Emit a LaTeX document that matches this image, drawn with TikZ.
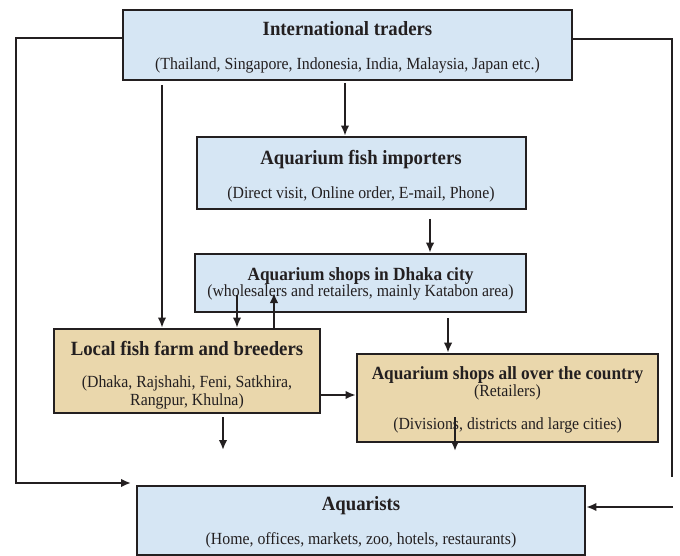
\documentclass[tikz,border=0pt]{standalone}
\usepackage{fontspec}
\setmainfont[FakeStretch=0.93]{Liberation Serif}
\usetikzlibrary{arrows.meta}
\definecolor{ink}{RGB}{35,31,32}
\definecolor{seablue}{RGB}{214,230,244}
\definecolor{sandtan}{RGB}{234,215,172}
\tikzset{
  bluebox/.style={draw=ink,line width=2.6pt,fill=seablue,inner sep=0pt},
  tanbox/.style={bluebox,fill=sandtan},
  hd/.style={anchor=base,inner sep=0pt,font=\fontsize{20.2}{22}\selectfont\bfseries},
  sub/.style={anchor=base,inner sep=0pt,font=\fontsize{17}{19}\selectfont},
}
\begin{document}
\begin{tikzpicture}[x=1pt,y=-1pt,>={Latex[length=10pt,width=8.5pt]},color=ink,line width=1.9pt]
        \useasboundingbox (0,0) rectangle (680,556);
        % boxes
        \node[bluebox,minimum width=449,minimum height=70] (trader) at (347.5,45) {};
        \node[bluebox,minimum width=329,minimum height=72] (importer) at (361.5,173) {};
        \node[bluebox,minimum width=331,minimum height=58] (dhaka) at (360.5,283) {};
        \node[tanbox,minimum width=266,minimum height=84] (local) at (187,371) {};
        \node[tanbox,minimum width=301,minimum height=88] (allover) at (507.5,398) {};
        \node[bluebox,minimum width=448,minimum height=69] (aquarist) at (361,520.5) {};
        % texts
        \node[hd] (traderT) at (347.5,36) {International traders};
        \node[sub] (traderS) at (347.5,70) {(Thailand, Singapore, Indonesia, India, Malaysia, Japan etc.)};
        \node[hd] (importerT) at (361,165) {Aquarium fish importers};
        \node[sub] (importerS) at (361,199) {(Direct visit, Online order, E-mail, Phone)};
        \node[hd,font=\fontsize{18.6}{20}\selectfont\bfseries] (dhakaT) at (360.5,280) {Aquarium shops in Dhaka city};
        \node[sub] (dhakaS) at (360.5,296) {(wholesalers and retailers, mainly Katabon area)};
        \node[hd] (localT) at (187,355) {Local fish farm and breeders};
        \node[sub] (localS) at (187,387) {(Dhaka, Rajshahi, Feni, Satkhira,};
        \node[sub] (localS2) at (187,405) {Rangpur, Khulna)};
        \node[hd,font=\fontsize{18.6}{20}\selectfont\bfseries] (alloverT) at (507.5,379) {Aquarium shops all over the country};
        \node[sub] (alloverS) at (507.5,396) {(Retailers)};
        \node[sub] (alloverS2) at (507.5,429) {(Divisions, districts and large cities)};
        \node[hd] (aquaristT) at (361,510) {Aquarists};
        \node[sub] (aquaristS) at (361,544) {(Home, offices, markets, zoo, hotels, restaurants)};
        % free ends
        \coordinate (lt) at (16,38);
        \coordinate (lq) at (131,483);
        \coordinate (rt) at (672,39);
        \coordinate (rb) at (672,477);
        \coordinate (rq) at (673,507);
        \coordinate (tl) at (162,85);
        \coordinate (ti) at (345,83);
        \coordinate (id) at (430,219);
        \coordinate (dl) at (237,295);
        \coordinate (ld) at (274,293);
        \coordinate (da) at (448,318);
        \coordinate (la) at (320,395);
        \coordinate (lo) at (223,417);
        \coordinate (lq2) at (223,450);
        \coordinate (ao) at (455,417);
        \coordinate (aq2) at (455,451);
        % connectors
        \draw[->] (trader.west |- lt) -- (lt) |- (lq);
        \draw (trader.east |- rt) -- (rt) -- (rb);
        \draw[->] (rq) -- (aquarist.east |- rq);
        \draw[->] (tl) -- (local.north -| tl);
        \draw[->] (ti) -- (importer.north -| ti);
        \draw[->] (id) -- (dhaka.north -| id);
        \draw[->] (dl) -- (local.north -| dl);
        \draw[->] (local.north -| ld) -- (ld);
        \draw[->] (da) -- (allover.north -| da);
        \draw[->] (local.east |- la) -- (allover.west |- la);
        \draw[->] (lo) -- (lq2);
        \draw[->] (ao) -- (aq2);
\end{tikzpicture}
\end{document}
